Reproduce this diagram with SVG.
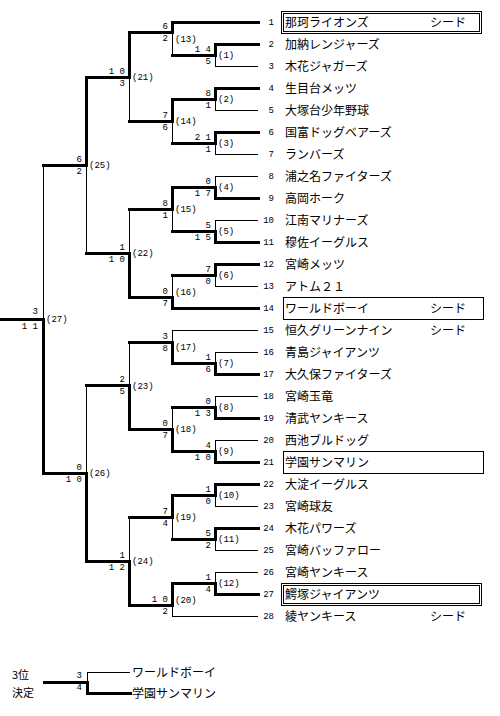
<svg xmlns="http://www.w3.org/2000/svg" width="500" height="716" viewBox="0 0 500 716">
<style>
.k{stroke:#000;stroke-width:3;fill:none;stroke-linecap:square}
.t{stroke:#000;stroke-width:1;fill:none}
.bx{stroke:#000;stroke-width:1;fill:none}
.nm{font-family:"Noto Sans CJK JP","Noto Sans",sans-serif;font-size:12px;fill:#000}
.no{font-family:"Liberation Mono",monospace;font-size:9px;fill:#000;text-anchor:end}
.sc{font-family:"Liberation Mono",monospace;font-size:9px;fill:#000;text-anchor:end}
.lb{font-family:"Liberation Mono",monospace;font-size:9px;fill:#000}
.sd{font-family:"Noto Sans CJK JP",sans-serif;font-size:12px;fill:#000}
.tp{font-family:"Noto Sans CJK JP",sans-serif;font-size:11px;fill:#000}
</style>
<rect width="500" height="716" fill="#fff"/>
<g id="connectors" shape-rendering="crispEdges">
<line class="k" x1="172" y1="22" x2="258" y2="22"/>
<line class="k" x1="215" y1="44" x2="258" y2="44"/>
<line class="t" x1="215" y1="66.5" x2="258" y2="66.5"/>
<line class="k" x1="215" y1="88" x2="258" y2="88"/>
<line class="t" x1="215" y1="110.5" x2="258" y2="110.5"/>
<line class="k" x1="215" y1="132" x2="258" y2="132"/>
<line class="t" x1="215" y1="154.5" x2="258" y2="154.5"/>
<line class="t" x1="215" y1="176.5" x2="258" y2="176.5"/>
<line class="k" x1="215" y1="198" x2="258" y2="198"/>
<line class="t" x1="215" y1="220.5" x2="258" y2="220.5"/>
<line class="k" x1="215" y1="242" x2="258" y2="242"/>
<line class="k" x1="215" y1="264" x2="258" y2="264"/>
<line class="t" x1="215" y1="286.5" x2="258" y2="286.5"/>
<line class="k" x1="172" y1="308" x2="258" y2="308"/>
<line class="t" x1="172" y1="330.5" x2="258" y2="330.5"/>
<line class="t" x1="215" y1="352.5" x2="258" y2="352.5"/>
<line class="k" x1="215" y1="374" x2="258" y2="374"/>
<line class="t" x1="215" y1="396.5" x2="258" y2="396.5"/>
<line class="k" x1="215" y1="418" x2="258" y2="418"/>
<line class="t" x1="215" y1="440.5" x2="258" y2="440.5"/>
<line class="k" x1="215" y1="462" x2="258" y2="462"/>
<line class="k" x1="215" y1="484" x2="258" y2="484"/>
<line class="t" x1="215" y1="506.5" x2="258" y2="506.5"/>
<line class="k" x1="215" y1="528" x2="258" y2="528"/>
<line class="t" x1="215" y1="550.5" x2="258" y2="550.5"/>
<line class="t" x1="215" y1="572.5" x2="258" y2="572.5"/>
<line class="k" x1="215" y1="594" x2="258" y2="594"/>
<line class="t" x1="172" y1="616.5" x2="258" y2="616.5"/>
<path class="k" d="M215 44V55M172 55H215"/><path class="t" d="M215.5 55V66"/>
<path class="k" d="M215 88V99M172 99H215"/><path class="t" d="M215.5 99V110"/>
<path class="k" d="M215 132V143M172 143H215"/><path class="t" d="M215.5 143V154"/>
<path class="k" d="M215 187V198M172 187H215"/><path class="t" d="M215.5 176V187"/>
<path class="k" d="M215 231V242M172 231H215"/><path class="t" d="M215.5 220V231"/>
<path class="k" d="M215 264V275M172 275H215"/><path class="t" d="M215.5 275V286"/>
<path class="k" d="M215 363V374M172 363H215"/><path class="t" d="M215.5 352V363"/>
<path class="k" d="M215 407V418M172 407H215"/><path class="t" d="M215.5 396V407"/>
<path class="k" d="M215 451V462M172 451H215"/><path class="t" d="M215.5 440V451"/>
<path class="k" d="M215 484V495M172 495H215"/><path class="t" d="M215.5 495V506"/>
<path class="k" d="M215 528V539M172 539H215"/><path class="t" d="M215.5 539V550"/>
<path class="k" d="M215 583V594M172 583H215"/><path class="t" d="M215.5 572V583"/>
<path class="k" d="M172 22V32M129 32H172"/><path class="t" d="M172.5 32V55"/>
<path class="k" d="M172 99V121M129 121H172"/><path class="t" d="M172.5 121V143"/>
<path class="k" d="M172 187V209M129 209H172"/><path class="t" d="M172.5 209V231"/>
<path class="k" d="M172 297V308M129 297H172"/><path class="t" d="M172.5 275V297"/>
<path class="k" d="M172 342V363M129 342H172"/><path class="t" d="M172.5 330V342"/>
<path class="k" d="M172 429V451M129 429H172"/><path class="t" d="M172.5 407V429"/>
<path class="k" d="M172 495V517M129 517H172"/><path class="t" d="M172.5 517V539"/>
<path class="k" d="M172 583V605M129 605H172"/><path class="t" d="M172.5 605V616"/>
<path class="k" d="M129 32V77M86 77H129"/><path class="t" d="M129.5 77V121"/>
<path class="k" d="M129 253V297M86 253H129"/><path class="t" d="M129.5 209V253"/>
<path class="k" d="M129 385V429M86 385H129"/><path class="t" d="M129.5 342V385"/>
<path class="k" d="M129 561V605M86 561H129"/><path class="t" d="M129.5 517V561"/>
<path class="k" d="M86 77V165M43 165H86"/><path class="t" d="M86.5 165V253"/>
<path class="k" d="M86 473V561M43 473H86"/><path class="t" d="M86.5 385V473"/>
<path class="k" d="M43 319V473M1 319H43"/><path class="t" d="M43.5 165V319"/>
<path class="k" d="M44 682H87V693H130"/><path class="t" d="M87.5 682V672.5H130"/>
</g>
<g id="scores">
<g id="m1"><text class="sc" x="211" y="52">1 4</text><text class="sc" x="211" y="64">5</text><text class="lb" x="218" y="58">(1)</text></g>
<g id="m2"><text class="sc" x="211" y="96">8</text><text class="sc" x="211" y="108">1</text><text class="lb" x="218" y="102">(2)</text></g>
<g id="m3"><text class="sc" x="211" y="140">2 1</text><text class="sc" x="211" y="152">1</text><text class="lb" x="218" y="146">(3)</text></g>
<g id="m4"><text class="sc" x="211" y="184">0</text><text class="sc" x="211" y="196">1 7</text><text class="lb" x="218" y="190">(4)</text></g>
<g id="m5"><text class="sc" x="211" y="228">5</text><text class="sc" x="211" y="240">1 5</text><text class="lb" x="218" y="234">(5)</text></g>
<g id="m6"><text class="sc" x="211" y="272">7</text><text class="sc" x="211" y="284">0</text><text class="lb" x="218" y="278">(6)</text></g>
<g id="m7"><text class="sc" x="211" y="360">1</text><text class="sc" x="211" y="372">6</text><text class="lb" x="218" y="366">(7)</text></g>
<g id="m8"><text class="sc" x="211" y="404">0</text><text class="sc" x="211" y="416">1 3</text><text class="lb" x="218" y="410">(8)</text></g>
<g id="m9"><text class="sc" x="211" y="448">4</text><text class="sc" x="211" y="460">1 0</text><text class="lb" x="218" y="454">(9)</text></g>
<g id="m10"><text class="sc" x="211" y="492">1</text><text class="sc" x="211" y="504">0</text><text class="lb" x="218" y="498">(10)</text></g>
<g id="m11"><text class="sc" x="211" y="536">5</text><text class="sc" x="211" y="548">2</text><text class="lb" x="218" y="542">(11)</text></g>
<g id="m12"><text class="sc" x="211" y="580">1</text><text class="sc" x="211" y="592">4</text><text class="lb" x="218" y="586">(12)</text></g>
<g id="m13"><text class="sc" x="168" y="29">6</text><text class="sc" x="168" y="41">2</text><text class="lb" x="175" y="41.5">(13)</text></g>
<g id="m14"><text class="sc" x="168" y="118">7</text><text class="sc" x="168" y="130">6</text><text class="lb" x="175" y="124">(14)</text></g>
<g id="m15"><text class="sc" x="168" y="206">8</text><text class="sc" x="168" y="218">1</text><text class="lb" x="175" y="212">(15)</text></g>
<g id="m16"><text class="sc" x="168" y="294">0</text><text class="sc" x="168" y="306">7</text><text class="lb" x="175" y="294.5">(16)</text></g>
<g id="m17"><text class="sc" x="168" y="339">3</text><text class="sc" x="168" y="351">8</text><text class="lb" x="175" y="349.5">(17)</text></g>
<g id="m18"><text class="sc" x="168" y="426">0</text><text class="sc" x="168" y="438">7</text><text class="lb" x="175" y="432">(18)</text></g>
<g id="m19"><text class="sc" x="168" y="514">7</text><text class="sc" x="168" y="526">4</text><text class="lb" x="175" y="520">(19)</text></g>
<g id="m20"><text class="sc" x="168" y="602">1 0</text><text class="sc" x="168" y="614">2</text><text class="lb" x="175" y="602.5">(20)</text></g>
<g id="m21"><text class="sc" x="125" y="74">1 0</text><text class="sc" x="125" y="86">3</text><text class="lb" x="132" y="79.5">(21)</text></g>
<g id="m22"><text class="sc" x="125" y="250">1</text><text class="sc" x="125" y="262">1 0</text><text class="lb" x="132" y="256">(22)</text></g>
<g id="m23"><text class="sc" x="125" y="382">2</text><text class="sc" x="125" y="394">5</text><text class="lb" x="132" y="388.5">(23)</text></g>
<g id="m24"><text class="sc" x="125" y="558">1</text><text class="sc" x="125" y="570">1 2</text><text class="lb" x="132" y="564">(24)</text></g>
<g id="m25"><text class="sc" x="82" y="162">6</text><text class="sc" x="82" y="174">2</text><text class="lb" x="89" y="168">(25)</text></g>
<g id="m26"><text class="sc" x="82" y="470">0</text><text class="sc" x="82" y="482">1 0</text><text class="lb" x="89" y="476">(26)</text></g>
<g id="m27"><text class="sc" x="38" y="314">3</text><text class="sc" x="38" y="329">1 1</text><text class="lb" x="46" y="322">(27)</text></g>
<g id="m3rd"><text class="sc" x="82" y="678">3</text><text class="sc" x="82" y="690">4</text></g>
</g>
<g id="team1"><rect class="bx" x="281.5" y="11.5" width="200" height="22"/><rect class="bx" x="283.5" y="13.5" width="196" height="18"/><text class="no" x="274" y="25">1</text><text class="nm" x="285" y="26.5">那珂ライオンズ</text><text class="sd" x="430" y="26.5">シード</text></g>
<g id="team2"><text class="no" x="274" y="47">2</text><text class="nm" x="285" y="48.5">加納レンジャーズ</text></g>
<g id="team3"><text class="no" x="274" y="69">3</text><text class="nm" x="285" y="70.5">木花ジャガーズ</text></g>
<g id="team4"><text class="no" x="274" y="91">4</text><text class="nm" x="285" y="92.5">生目台メッツ</text></g>
<g id="team5"><text class="no" x="274" y="113">5</text><text class="nm" x="285" y="114.5">大塚台少年野球</text></g>
<g id="team6"><text class="no" x="274" y="135">6</text><text class="nm" x="285" y="136.5">国富ドッグベアーズ</text></g>
<g id="team7"><text class="no" x="274" y="157">7</text><text class="nm" x="285" y="158.5">ランバーズ</text></g>
<g id="team8"><text class="no" x="274" y="179">8</text><text class="nm" x="285" y="180.5">浦之名ファイターズ</text></g>
<g id="team9"><text class="no" x="274" y="201">9</text><text class="nm" x="285" y="202.5">高岡ホーク</text></g>
<g id="team10"><text class="no" x="274" y="223">10</text><text class="nm" x="285" y="224.5">江南マリナーズ</text></g>
<g id="team11"><text class="no" x="274" y="245">11</text><text class="nm" x="285" y="246.5">穆佐イーグルス</text></g>
<g id="team12"><text class="no" x="274" y="267">12</text><text class="nm" x="285" y="268.5">宮崎メッツ</text></g>
<g id="team13"><text class="no" x="274" y="289">13</text><text class="nm" x="285" y="290.5">アトム２１</text></g>
<g id="team14"><rect class="bx" x="283.5" y="297.5" width="200" height="22"/><text class="no" x="274" y="311">14</text><text class="nm" x="285" y="312.5">ワールドボーイ</text><text class="sd" x="430" y="312.5">シード</text></g>
<g id="team15"><text class="no" x="274" y="333">15</text><text class="nm" x="285" y="334.5">恒久グリーンナイン</text><text class="sd" x="430" y="334.5">シード</text></g>
<g id="team16"><text class="no" x="274" y="355">16</text><text class="nm" x="285" y="356.5">青島ジャイアンツ</text></g>
<g id="team17"><text class="no" x="274" y="377">17</text><text class="nm" x="285" y="378.5">大久保ファイターズ</text></g>
<g id="team18"><text class="no" x="274" y="399">18</text><text class="nm" x="285" y="400.5">宮崎玉竜</text></g>
<g id="team19"><text class="no" x="274" y="421">19</text><text class="nm" x="285" y="422.5">清武ヤンキース</text></g>
<g id="team20"><text class="no" x="274" y="443">20</text><text class="nm" x="285" y="444.5">西池ブルドッグ</text></g>
<g id="team21"><rect class="bx" x="283.5" y="451.5" width="200" height="22"/><text class="no" x="274" y="465">21</text><text class="nm" x="285" y="466.5">学園サンマリン</text></g>
<g id="team22"><text class="no" x="274" y="487">22</text><text class="nm" x="285" y="488.5">大淀イーグルス</text></g>
<g id="team23"><text class="no" x="274" y="509">23</text><text class="nm" x="285" y="510.5">宮崎球友</text></g>
<g id="team24"><text class="no" x="274" y="531">24</text><text class="nm" x="285" y="532.5">木花パワーズ</text></g>
<g id="team25"><text class="no" x="274" y="553">25</text><text class="nm" x="285" y="554.5">宮崎バッファロー</text></g>
<g id="team26"><text class="no" x="274" y="575">26</text><text class="nm" x="285" y="576.5">宮崎ヤンキース</text></g>
<g id="team27"><rect class="bx" x="281.5" y="583.5" width="200" height="22"/><rect class="bx" x="283.5" y="585.5" width="196" height="18"/><text class="no" x="274" y="597">27</text><text class="nm" x="285" y="598.5">鰐塚ジャイアンツ</text></g>
<g id="team28"><text class="no" x="274" y="619">28</text><text class="nm" x="285" y="620.5">綾ヤンキース</text><text class="sd" x="430" y="620.5">シード</text></g>
<g id="third-label"><text class="tp" x="12" y="679">3位</text><text class="tp" x="12" y="697">決定</text></g>
<g id="third1"><text class="nm" x="132" y="676.5">ワールドボーイ</text></g>
<g id="third2"><text class="nm" x="132" y="697.5">学園サンマリン</text></g>
</svg>
